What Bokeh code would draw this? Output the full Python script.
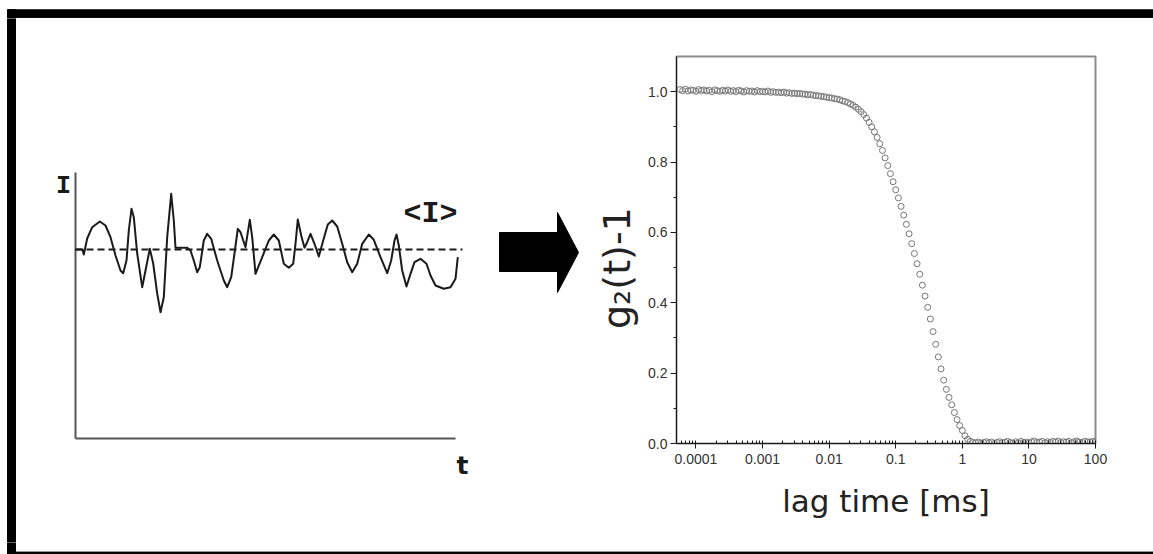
from bokeh.plotting import figure
from bokeh.layouts import column, row
from bokeh.models import Range1d, FixedTicker, Plot
from bokeh.core.properties import value
from bokeh.embed import file_html
from bokeh.resources import INLINE

# ---------------------------------------------------------------
# Left panel: schematic intensity trace I(t) and its mean <I>
# ---------------------------------------------------------------
TRACE_T = [0, 7, 8.3, 11.7, 16.7, 24.3, 30, 35, 40, 45, 47.7, 51, 53.3, 56, 58.3,
           61.7, 66.7, 70, 74.3, 77.7, 81.7, 85, 88.3, 91.7, 95.7, 98.3, 100, 105,
           111.7, 115, 118.3, 121.7, 124.3, 128.3, 131.7, 135.7, 141.7, 148.3, 151.7,
           155.7, 159, 162.3, 165, 170, 174.3, 176.7, 180, 186.7, 193.3, 198.3, 203.3,
           208.3, 213.3, 217.7, 220, 222.3, 225.7, 229, 231.7, 235, 239, 243.3, 247.7,
           252.3, 256.7, 261.7, 266.7, 271.7, 276.7, 281.7, 286.7, 293.3, 298.3, 305,
           311.7, 315.7, 319, 321, 323.3, 326.7, 331, 335, 339, 345, 351, 355, 360,
           368.3, 375, 380, 382.3]
TRACE_I = [189, 189, 184, 200, 211.3, 217, 213, 201.3, 183, 168, 165.3, 178, 208, 229.7,
           221.3, 185, 151.3, 168, 189.7, 175, 145, 126.3, 141.3, 201.3, 244.7, 218,
           190.7, 190.7, 190.7, 188, 178, 166.3, 171.3, 198, 204.7, 199.7, 178, 158,
           151.3, 161.3, 185, 209.7, 206.3, 191.3, 218.7, 201.3, 164.7, 181.3, 198, 204,
           198, 174.7, 170.7, 174.7, 194.7, 219, 203, 190.7, 196.3, 204.7, 194.7, 182,
           198, 214, 218, 212, 194.7, 176.3, 166.3, 174.7, 194.7, 204, 198.7, 181.3,
           165.3, 178, 198, 204, 193, 168, 152, 164.7, 176.3, 179.7, 174.7, 163, 153,
           149.7, 151.3, 159.7, 181.3]
MEAN_I = 189          # level of the dashed <I> line
MEAN_T_END = 387      # dashed line length
T_AXIS_END = 380      # time axis length
I_AXIS_TOP = 266      # intensity axis height

# arrow between the panels (shaft + head outline)
ARROW_T = [424, 482, 482, 503, 482, 482, 424]
ARROW_I = [206, 206, 226, 186, 146, 167, 167]

# ---------------------------------------------------------------
# Right panel: measured intensity autocorrelation g2(t)-1
# ---------------------------------------------------------------
LAG_MS = [
    5.754e-5, 6.310e-5, 6.918e-5, 7.586e-5, 8.318e-5, 9.120e-5,
    1.000e-4, 1.096e-4, 1.202e-4, 1.318e-4, 1.445e-4, 1.585e-4, 1.738e-4, 1.905e-4,
    2.089e-4, 2.291e-4, 2.512e-4, 2.754e-4, 3.020e-4, 3.311e-4, 3.631e-4, 3.981e-4,
    4.365e-4, 4.786e-4, 5.248e-4, 5.754e-4, 6.310e-4, 6.918e-4, 7.586e-4, 8.318e-4,
    9.120e-4,
    1.000e-3, 1.096e-3, 1.202e-3, 1.318e-3, 1.445e-3, 1.585e-3, 1.738e-3, 1.905e-3,
    2.089e-3, 2.291e-3, 2.512e-3, 2.754e-3, 3.020e-3, 3.311e-3, 3.631e-3, 3.981e-3,
    4.365e-3, 4.786e-3, 5.248e-3, 5.754e-3, 6.310e-3, 6.918e-3, 7.586e-3, 8.318e-3,
    9.120e-3,
    1.000e-2, 1.096e-2, 1.202e-2, 1.318e-2, 1.445e-2, 1.585e-2, 1.738e-2, 1.905e-2,
    2.089e-2, 2.291e-2, 2.512e-2, 2.754e-2, 3.020e-2, 3.311e-2, 3.631e-2, 3.981e-2,
    4.365e-2, 4.786e-2, 5.248e-2, 5.754e-2, 6.310e-2, 6.918e-2, 7.586e-2, 8.318e-2,
    9.120e-2,
    0.1000, 0.1096, 0.1202, 0.1318, 0.1445, 0.1585, 0.1738, 0.1905,
    0.2089, 0.2291, 0.2512, 0.2754, 0.3020, 0.3311, 0.3631, 0.3981,
    0.4365, 0.4786, 0.5248, 0.5754, 0.6310, 0.6918, 0.7586, 0.8318, 0.9120,
    1.000, 1.096, 1.202, 1.318, 1.445, 1.585, 1.738, 1.905,
    2.089, 2.291, 2.512, 2.754, 3.020, 3.311, 3.631, 3.981,
    4.365, 4.786, 5.248, 5.754, 6.310, 6.918, 7.586, 8.318, 9.120,
    10.00, 10.96, 12.02, 13.18, 14.45, 15.85, 17.38, 19.05,
    20.89, 22.91, 25.12, 27.54, 30.20, 33.11, 36.31, 39.81,
    43.65, 47.86, 52.48, 57.54, 63.10, 69.18, 75.86, 83.18, 91.20,
    100.0,
]
G2_MINUS_1 = [
    1.006, 1.003, 1.007, 1.002, 1.005, 1.004, 1.001, 1.006, 1.003, 1.005,
    1.002, 1.004, 1.000, 1.005, 1.003, 1.001, 1.004, 1.002, 1.005, 1.001,
    1.003, 1.000, 1.004, 1.002, 0.999, 1.003, 1.001, 1.002, 0.999, 1.003, 1.000,
    1.001, 0.999, 1.002, 0.998, 1.000, 0.998, 0.999, 0.997, 0.999, 0.996,
    0.997, 0.995, 0.996, 0.994, 0.995, 0.993, 0.993, 0.991, 0.992, 0.990,
    0.989, 0.988, 0.987, 0.986, 0.984,
    0.983, 0.982, 0.980, 0.979, 0.977, 0.974, 0.972, 0.969, 0.965, 0.961,
    0.956, 0.950, 0.943, 0.935, 0.925, 0.913, 0.900, 0.886, 0.870, 0.852,
    0.833, 0.812, 0.790, 0.767, 0.744,
    0.721, 0.698, 0.674, 0.649, 0.623, 0.596, 0.568, 0.540, 0.511, 0.481,
    0.450, 0.419, 0.387, 0.354, 0.318, 0.282, 0.246, 0.212, 0.180, 0.154,
    0.131, 0.110, 0.088, 0.068, 0.051,
    0.037, 0.022, 0.012, 0.006, 0.003, 0.002, 0.004, 0.001, 0.003, 0.005,
    0.002, 0.004, 0.000, 0.003, 0.005, 0.002, 0.004, 0.006, 0.003, 0.001,
    0.005, 0.002, 0.006, 0.003, 0.004,
    0.002, 0.005, 0.007, 0.003, 0.004, 0.006, 0.002, 0.005, 0.003, 0.006,
    0.004, 0.007, 0.003, 0.005, 0.004, 0.006, 0.002, 0.005, 0.007, 0.004,
    0.003, 0.006, 0.005, 0.004, 0.006, 0.005,
]
assert len(LAG_MS) == len(G2_MINUS_1)

X_TICKS = [1e-4, 1e-3, 1e-2, 1e-1, 1, 10, 100]
X_TICK_LABELS = ["0.0001", "0.001", "0.01", "0.1", "1", "10", "100"]
Y_TICKS = [0.0, 0.2, 0.4, 0.6, 0.8, 1.0]
Y_TICK_LABELS = ["0.0", "0.2", "0.4", "0.6", "0.8", "1.0"]
Y_MINOR = [0.1, 0.3, 0.5, 0.7, 0.9]

# ---------------------------------------------------------------
# Page geometry
# ---------------------------------------------------------------
W, H = 1153, 554
TOP_H, BOT_H = 18, 12
MID_H = H - TOP_H - BOT_H
LEFT_W = 590
RIGHT_W = W - LEFT_W
INK = "#1a1a1a"
I_BOTTOM = -(MID_H + TOP_H - 438)   # schematic units at the bottom of the middle row

HAS_FRAME_ALIGN = "frame_align" in Plot.properties()


def no_align(fig):
    """Keep each figure's frame where its own borders put it."""
    if HAS_FRAME_ALIGN:
        fig.frame_align = False
    return fig


def strip(height):
    """Thin full-width figure used for the frame around the page."""
    s = figure(width=W, height=height, x_range=Range1d(0, W), y_range=Range1d(height, 0),
               x_axis_type=None, y_axis_type=None, toolbar_location=None,
               output_backend="svg", min_border=0, outline_line_color=None)
    s.grid.visible = False
    return no_align(s)


top = strip(TOP_H)
top.quad(left=7, right=W, top=9.3, bottom=17.3, color="black")
top.quad(left=7, right=15, top=9.3, bottom=TOP_H, color="black")

bottom = strip(BOT_H)
bottom.quad(left=7, right=15, top=0, bottom=BOT_H, color="black")
bottom.quad(left=15, right=W, top=BOT_H - 2.4, bottom=BOT_H - 0.8, color="black")

# --- left: schematic ---
left = figure(width=LEFT_W, height=MID_H, x_range=Range1d(-75, LEFT_W - 75),
              y_range=Range1d(I_BOTTOM, I_BOTTOM + MID_H), x_axis_type=None,
              y_axis_type=None, toolbar_location=None, output_backend="svg",
              min_border=0, outline_line_color=None)
no_align(left)
left.grid.visible = False
left.quad(left=-68, right=-60, bottom=I_BOTTOM, top=I_BOTTOM + MID_H, color="black")

left.line([0, 0], [0, I_AXIS_TOP], line_color="#555555", line_width=2)
left.line([0, T_AXIS_END], [0, 0], line_color="#555555", line_width=2)
left.line([0, MEAN_T_END], [MEAN_I, MEAN_I], line_color=INK, line_width=2,
          line_dash="7 4")
left.line(TRACE_T, TRACE_I, line_color=INK, line_width=2, line_join="round")

left.text(x=[-12], y=[252], text=["I"], text_font=value("Liberation Mono"),
          text_font_style="bold", text_font_size="25px", text_color=INK,
          text_align="center", text_baseline="middle")
left.text(x=[355], y=[225], text=["<I>"], text_font=value("Liberation Mono"),
          text_font_style="bold", text_font_size="30px", text_color=INK,
          text_align="center", text_baseline="middle")
left.text(x=[387], y=[-27], text=["t"], text_font=value("DejaVu Sans"),
          text_font_style="bold", text_font_size="25px", text_color=INK,
          text_align="center", text_baseline="middle")

left.patch(ARROW_T, ARROW_I, fill_color="black", line_color="black")

# --- right: correlation function ---
right = figure(width=RIGHT_W, height=MID_H, x_axis_type="log",
               x_range=Range1d(5.1e-5, 100), y_range=Range1d(0, 1.1),
               toolbar_location=None, output_backend="svg",
               min_border_left=86, min_border_right=58,
               min_border_top=38, min_border_bottom=MID_H + TOP_H - 443)
no_align(right)
right.grid.visible = False
right.outline_line_color = "#8c8c8c"
right.outline_line_width = 2

right.scatter(LAG_MS, G2_MINUS_1, marker="circle", size=6, fill_color="white",
              fill_alpha=0.0, line_color="#777777", line_width=1)

minor_x = [m * 10.0 ** e for e in range(-5, 2) for m in range(2, 10)]
right.xaxis.ticker = FixedTicker(ticks=X_TICKS, minor_ticks=minor_x)
right.xaxis.major_label_overrides = dict(zip(X_TICKS, X_TICK_LABELS))
right.yaxis.ticker = FixedTicker(ticks=Y_TICKS, minor_ticks=Y_MINOR)
right.yaxis.major_label_overrides = dict(zip(Y_TICKS, Y_TICK_LABELS))

for ax in (right.xaxis[0], right.yaxis[0]):
    ax.axis_line_color = INK
    ax.major_tick_line_color = INK
    ax.minor_tick_line_color = INK
    ax.major_label_text_font = "Liberation Sans"
    ax.major_label_text_font_size = "14px"
    ax.major_label_text_color = "#333333"
    ax.axis_label_text_font = "DejaVu Sans"
    ax.axis_label_text_font_style = "normal"
    ax.axis_label_text_color = "#222222"

right.xaxis.major_tick_out = 5
right.xaxis.major_tick_in = 3
right.xaxis.minor_tick_out = 0
right.xaxis.minor_tick_in = 3
right.xaxis.major_label_standoff = 5
right.xaxis.axis_label = "lag time [ms]"
right.xaxis.axis_label_text_font_size = "31px"
right.xaxis.axis_label_standoff = 16

right.yaxis.major_tick_out = 6
right.yaxis.major_tick_in = 0
right.yaxis.minor_tick_out = 3
right.yaxis.minor_tick_in = 0
right.yaxis.major_label_standoff = 3
# trailing no-break spaces move the rotated label a little below the axis centre
right.yaxis.axis_label = "g₂(t)-1" + "\u00a0" * 3
right.yaxis.axis_label_text_font_size = "38px"
right.yaxis.axis_label_standoff = 6

page = column(top, row(left, right), bottom)
open("out.html", "w").write(file_html(page, INLINE))
